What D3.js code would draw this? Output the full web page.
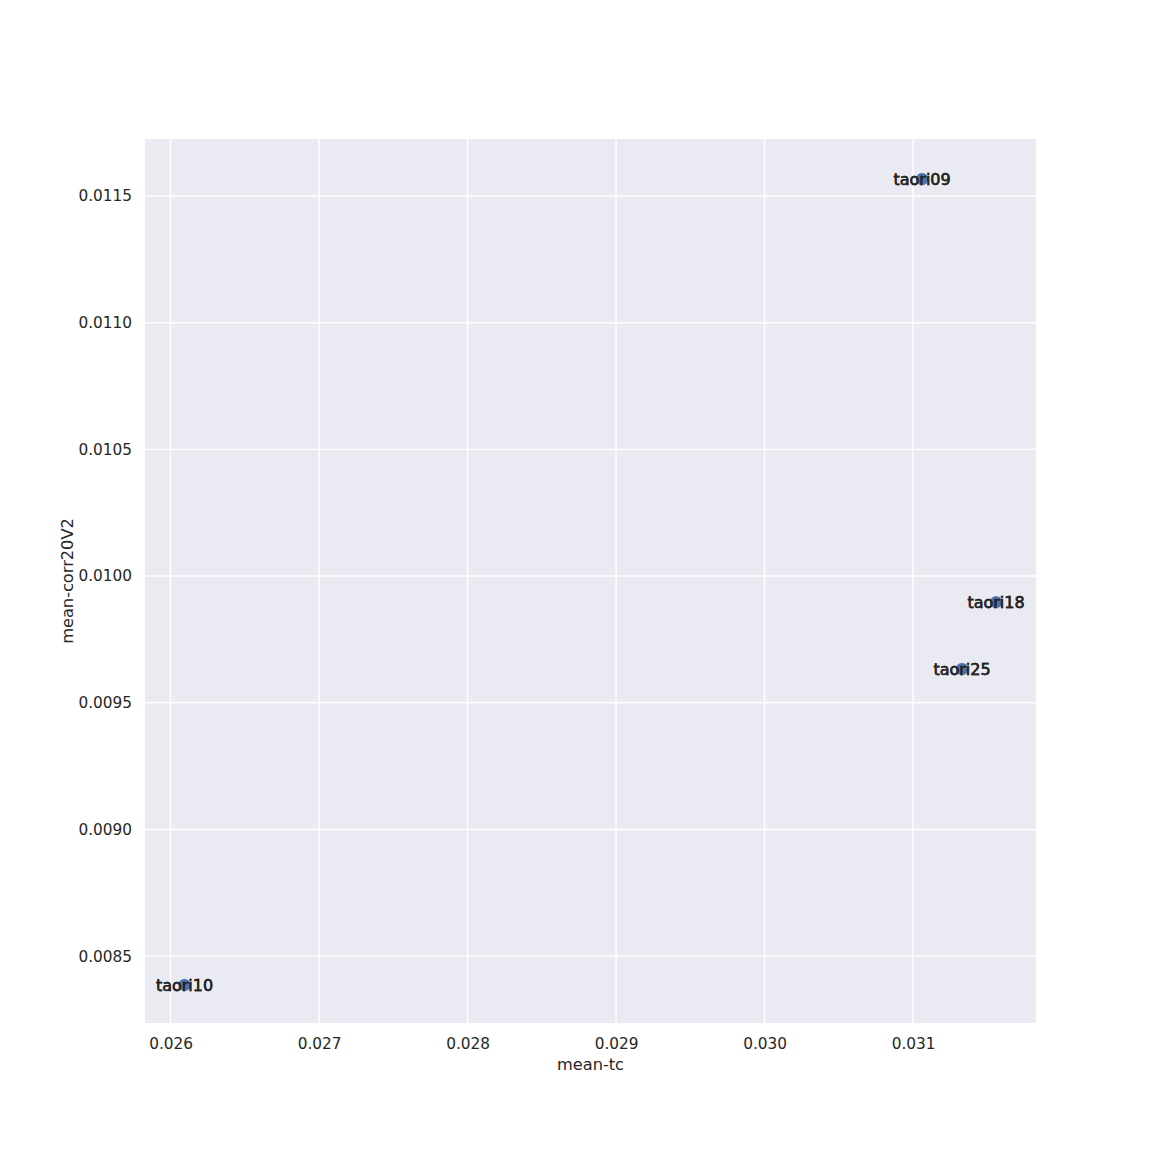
<!DOCTYPE html>
<html><head><meta charset="utf-8">
<script src="https://cdn.jsdelivr.net/npm/d3@7"></script>
<style>body{margin:0;background:#fff;} text{font-family:"DejaVu Sans",sans-serif;}</style>
</head><body>
<svg id="c" width="1152" height="1152"></svg>
<script>
const names = ["taori09", "taori18", "taori25", "taori10"];
const meanTc = [0.031061, 0.031559, 0.031330, 0.026094];
const meanCorr = [0.011567, 0.009897, 0.009633, 0.008386];
const xTicks = [0.026, 0.027, 0.028, 0.029, 0.030, 0.031];
const yTicks = [0.0085, 0.0090, 0.0095, 0.0100, 0.0105, 0.0110, 0.0115];
const xDomain = [0.025828, 0.031828];
const yDomain = [0.008236, 0.011725];

const L = 145, R = 1036, T = 139, B = 1023;
const svg = d3.select("#c");
const x = d3.scaleLinear().domain(xDomain).range([L, R]);
const y = d3.scaleLinear().domain(yDomain).range([B, T]);

svg.append("rect").attr("x", L).attr("y", T).attr("width", R - L).attr("height", B - T).attr("fill", "#eaeaf2");

const gx = svg.append("g").attr("transform", `translate(0,${B})`)
  .call(d3.axisBottom(x).tickValues(xTicks).tickFormat(d3.format(".3f")).tickSize(0).tickPadding(15));
gx.select(".domain").remove();
gx.selectAll("text").attr("font-size", 15.3).attr("fill", "#262626").attr("font-family", "DejaVu Sans");

const gy = svg.append("g").attr("transform", `translate(${L},0)`)
  .call(d3.axisLeft(y).tickValues(yTicks).tickFormat(d3.format(".4f")).tickSize(0).tickPadding(13));
gy.select(".domain").remove();
gy.selectAll("text").attr("font-size", 15.3).attr("fill", "#262626").attr("font-family", "DejaVu Sans");

svg.append("g").selectAll("line").data(xTicks).join("line")
  .attr("x1", d => x(d)).attr("x2", d => x(d)).attr("y1", T).attr("y2", B)
  .attr("stroke", "#fff").attr("stroke-width", 1.4);
svg.append("g").selectAll("line").data(yTicks).join("line")
  .attr("y1", d => y(d)).attr("y2", d => y(d)).attr("x1", L).attr("x2", R)
  .attr("stroke", "#fff").attr("stroke-width", 1.4);

const data = names.map((n, i) => ({ n, x: meanTc[i], y: meanCorr[i] }));
svg.append("g").selectAll("circle").data(data).join("circle")
  .attr("cx", d => x(d.x)).attr("cy", d => y(d.y)).attr("r", 6.5)
  .attr("fill", "#4c72b0").attr("stroke", "#fff").attr("stroke-width", 0.7);

for (let k = 0; k < 2; k++) {
  svg.append("g").selectAll("text").data(data).join("text")
    .attr("x", d => x(d.x)).attr("y", d => y(d.y)).attr("dy", "0.35em")
    .attr("text-anchor", "middle").attr("font-size", 16).attr("fill", "#262626")
    .attr("stroke", "#262626").attr("stroke-width", 0.3)
    .text(d => d.n);
}

svg.append("text").attr("x", (L + R) / 2).attr("y", 1070).attr("text-anchor", "middle")
  .attr("font-size", 16.2).attr("fill", "#262626").text("mean-tc");
svg.append("text").attr("transform", `translate(73,${(T + B) / 2}) rotate(-90)`).attr("text-anchor", "middle")
  .attr("font-size", 16.2).attr("fill", "#262626").text("mean-corr20V2");
</script>
</body></html>
